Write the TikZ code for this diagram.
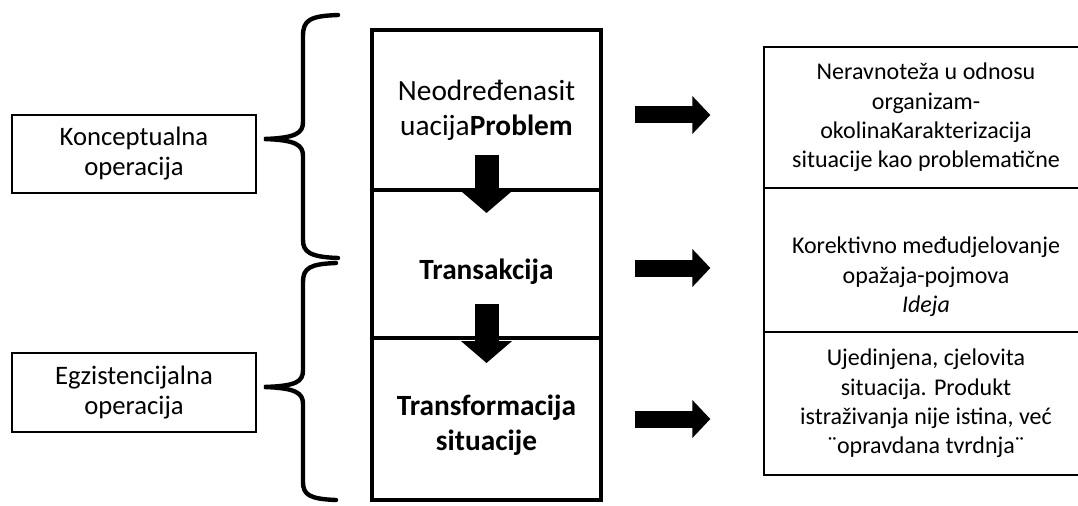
\documentclass[tikz,border=0pt]{standalone}
\usepackage{fontspec}
\setmainfont{Carlito}
\usepackage{tikz}
\usetikzlibrary{arrows.meta, positioning, calc}

\begin{document}
\begin{tikzpicture}[x=0.75pt, y=-0.75pt,
  sidebox/.style={draw, line width=1pt, align=center, inner sep=0pt, font=\fontsize{18}{22}\selectfont},
  midbox/.style={draw, line width=3pt, align=center, inner sep=0pt, minimum width=171.75pt, font=\fontsize{22}{26.25}\selectfont},
  opbrace/.style={line width=3.3pt, line cap=round},
  rightarrow/.style={line width=12.75pt, -{Triangle[length=13.5pt, width=27.75pt]}, shorten <=24pt, shorten >=39.75pt},
  downarrow/.style={line width=18pt, -{Triangle[length=16.5pt, width=37.5pt]}}]
  \useasboundingbox (0,0) rectangle (1078,506);
  \clip (0,0) rectangle (1078,506);

  % Operations
  \node[sidebox, minimum width=183pt, minimum height=58.5pt, font=\fontsize{20}{22.5}\selectfont] (konc) at (134,154) {Konceptualna\\operacija};
  \node[sidebox, minimum width=183pt, minimum height=59.25pt, font=\fontsize{20}{22.5}\selectfont] (egz) at (134,392.5) {Egzistencijalna\\operacija};

  % Braces
  \draw[opbrace] (338,15) .. controls (310,16) and (303,20) .. (303,36) -- (303,122)
    .. controls (303,133) and (296,138) .. (264,139)
    .. controls (296,140) and (303,145) .. (303,156) -- (303,240)
    .. controls (303,252) and (310,257) .. (338,258);
  \draw[opbrace] (336,263) .. controls (310,264) and (303,268) .. (303,282) -- (303,370)
    .. controls (303,382) and (296,386) .. (264,387)
    .. controls (296,388) and (303,393) .. (303,404) -- (303,482)
    .. controls (303,495) and (310,499) .. (336,500);

  % Stages
  \node[midbox, minimum height=120pt] (problem) at (486.5,110) {Neodređenasit\\uacija\textbf{Problem}};
  \node[midbox, minimum height=111pt, font=\fontsize{22}{26.25}\selectfont\bfseries] (trans) at (486.5,264) {\raisebox{-6pt}[\height][\depth]{Transakcija}};
  \node[midbox, minimum height=121.5pt, font=\fontsize{22}{26.25}\selectfont\bfseries] (transf) at (486.5,419) {\raisebox{-5pt}[\height][\depth]{Transformacija}\\\raisebox{-5pt}[\height][\depth]{situacije}};

  \draw[downarrow] ([yshift=27.75pt]problem.south) -- ([yshift=-18.75pt]trans.north);
  \draw[downarrow] ([yshift=27pt]trans.south) -- ([yshift=-20.25pt]transf.north);

  % Descriptions
  \node[sidebox, minimum width=243pt, minimum height=105.75pt] (nerav) at (926,117.5) {Neravnoteža u odnosu\\organizam-\\okolinaKarakterizacija\\situacije kao problematične};
  \node[sidebox, minimum width=243pt, minimum height=108pt] (korek) at (926,260) {\mbox{}\\[16pt]Korektivno međudjelovanje\\opažaja-pojmova\\\textit{Ideja}};
  \node[sidebox, minimum width=243pt, minimum height=107.25pt] (ujed) at (926,403.5) {Ujedinjena, cjelovita\\situacija. Produkt\\istraživanja nije istina, već\\¨opravdana tvrdnja¨};

  \draw[rightarrow] ([yshift=-3.75pt]problem.east) -- ([yshift=-3.75pt]problem.east -| nerav.west);
  \draw[rightarrow] ([yshift=-3pt]trans.east) -- ([yshift=-3pt]trans.east -| korek.west);
  \draw[rightarrow] (transf.east) -- (transf.east -| ujed.west);
\end{tikzpicture}
\end{document}
